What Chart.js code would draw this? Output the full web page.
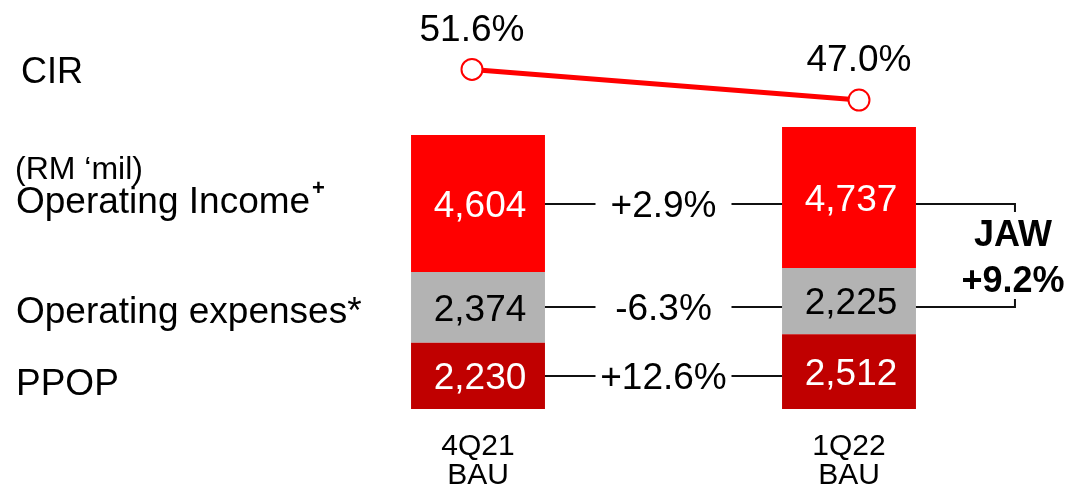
<!DOCTYPE html>
<html>
<head>
<meta charset="utf-8">
<script src="https://cdn.jsdelivr.net/npm/chart.js@4"></script>
<style>
  html, body { margin: 0; padding: 0; background: #fff; }
  #wrap { width: 1085px; height: 488px; }
</style>
</head>
<body>
<div id="wrap"><canvas id="cirChart"></canvas></div>
<script>
// values (RM 'mil)
const periods = [['4Q21', 'BAU'], ['1Q22', 'BAU']];
const ppop = [2230, 2512];
const opex = [2374, 2225];
const income = [4604, 4737];
const cir = [51.6, 47.0];
const cirLabels = ['51.6%', '47.0%'];
// growth labels per row, bottom to top: PPOP, opex, income
const changeLabels = ['+12.6%', '-6.3%', '+2.9%'];
const jawLabels = ['JAW', '+9.2%'];

const FONT = '"Liberation Sans", Arial, sans-serif';

function txt(ctx, str, x, cy, size, opts) {
  opts = opts || {};
  ctx.font = (opts.bold ? 'bold ' : '') + size + 'px ' + FONT;
  ctx.textAlign = opts.align || 'center';
  ctx.textBaseline = 'alphabetic';
  ctx.fillStyle = opts.color || '#000';
  // put the cap height centre on cy
  ctx.fillText(str, x, cy + size * 0.358);
}

function hline(ctx, x1, x2, y) {
  ctx.beginPath();
  ctx.moveTo(x1, y);
  ctx.lineTo(x2, y);
  ctx.stroke();
}

const slideText = {
  id: 'slideText',
  afterDraw(chart) {
    const ctx = chart.ctx;
    ctx.save();

    // values inside the bars
    const valueColors = ['#fff', '#000', '#fff'];
    [0, 1, 2].forEach((d) => {
      const meta = chart.getDatasetMeta(d);
      meta.data.forEach((bar, i) => {
        const v = chart.data.datasets[d].data[i];
        txt(ctx, v.toLocaleString('en-US'), bar.x + 2, (bar.y + bar.base) / 2, 37, { color: valueColors[d] });
      });
    });

    // connectors between the two bars with the growth figure
    ctx.strokeStyle = '#111';
    ctx.lineWidth = 2;
    const rowY = [];
    [0, 1, 2].forEach((d) => {
      const meta = chart.getDatasetMeta(d);
      const b0 = meta.data[0];
      const b1 = meta.data[1];
      const y = Math.round((b0.y + b0.base) / 2);
      rowY.push(y);
      const left = b0.x + b0.width / 2;
      const right = b1.x - b1.width / 2;
      const mid = (left + right) / 2;
      hline(ctx, left, mid - 68, y);
      hline(ctx, mid + 68, right, y);
      txt(ctx, changeLabels[d], mid, y, 37);
    });

    // JAW bracket on the right of 1Q22
    const b1 = chart.getDatasetMeta(2).data[1];
    const bx = b1.x + b1.width / 2;
    const ex = bx + 99;
    const yTop = rowY[2];
    const yBot = rowY[1];
    ctx.beginPath();
    ctx.moveTo(bx, yTop); ctx.lineTo(ex, yTop); ctx.lineTo(ex, yTop + 8);
    ctx.moveTo(bx, yBot); ctx.lineTo(ex, yBot); ctx.lineTo(ex, yBot - 8);
    ctx.stroke();
    const jm = (yTop + yBot) / 2;
    txt(ctx, jawLabels[0], ex - 2, jm - 22, 36, { bold: true });
    txt(ctx, jawLabels[1], ex - 2, jm + 24, 36, { bold: true });

    // CIR labels above the points
    const pts = chart.getDatasetMeta(3).data;
    pts.forEach((p, i) => txt(ctx, cirLabels[i], p.x, p.y - 42, 37));

    // left side row titles
    txt(ctx, 'CIR', 21, pts[0].y + 1, 36, { align: 'left' });
    txt(ctx, '(RM \u2018mil)', 15, 168, 32, { align: 'left' });
    txt(ctx, 'Operating Income', 16, 200, 37, { align: 'left' });
    ctx.font = '37px ' + FONT;
    const w = ctx.measureText('Operating Income').width;
    txt(ctx, '+', 16 + w + 2, 187, 22, { bold: true, align: 'left' });
    txt(ctx, 'Operating expenses*', 16, 310, 37, { align: 'left' });
    txt(ctx, 'PPOP', 16, 382, 37, { align: 'left' });

    ctx.restore();
  }
};

new Chart(document.getElementById('cirChart'), {
  type: 'bar',
  data: {
    labels: periods,
    datasets: [
      { label: 'PPOP', data: ppop, backgroundColor: '#C00000', stack: 's', grouped: false },
      { label: 'Operating expenses', data: opex, backgroundColor: '#B3B3B3', stack: 's', grouped: false },
      { label: 'Operating Income', data: income, backgroundColor: '#FF0000', stack: 's', grouped: false },
      {
        type: 'line',
        label: 'CIR',
        data: cir.map((v, i) => ({ x: i, y: v })),
        xAxisID: 'x2',
        yAxisID: 'yCir',
        stack: 's',
        borderColor: '#FF0000',
        borderWidth: 5,
        tension: 0,
        pointRadius: 10.5,
        pointBorderWidth: 2,
        pointBackgroundColor: '#fff',
        pointBorderColor: '#FF0000',
        clip: false
      }
    ]
  },
  options: {
    responsive: true,
    maintainAspectRatio: false,
    animation: false,
    devicePixelRatio: 1,
    layout: { autoPadding: false, padding: { left: 292.5, right: 50.5, top: 0, bottom: 0 } },
    datasets: { bar: { categoryPercentage: 1, barPercentage: 0.361 } },
    plugins: { legend: { display: false }, tooltip: { enabled: false } },
    scales: {
      x: {
        stacked: true,
        offset: true,
        grid: { display: false, drawTicks: false },
        border: { display: false },
        ticks: {
          color: '#000',
          padding: 23.5,
          font: { family: FONT, size: 30, lineHeight: 0.97 }
        },
        afterFit(scale) { scale.height = 79; }
      },
      x2: { type: 'linear', display: false, offset: false, min: -0.4638, max: 1.4535 },
      y: { stacked: true, display: false, min: 0, max: 13745 },
      yCir: { display: false, min: 0.7, max: 62 }
    }
  },
  plugins: [slideText]
});
</script>
</body>
</html>
